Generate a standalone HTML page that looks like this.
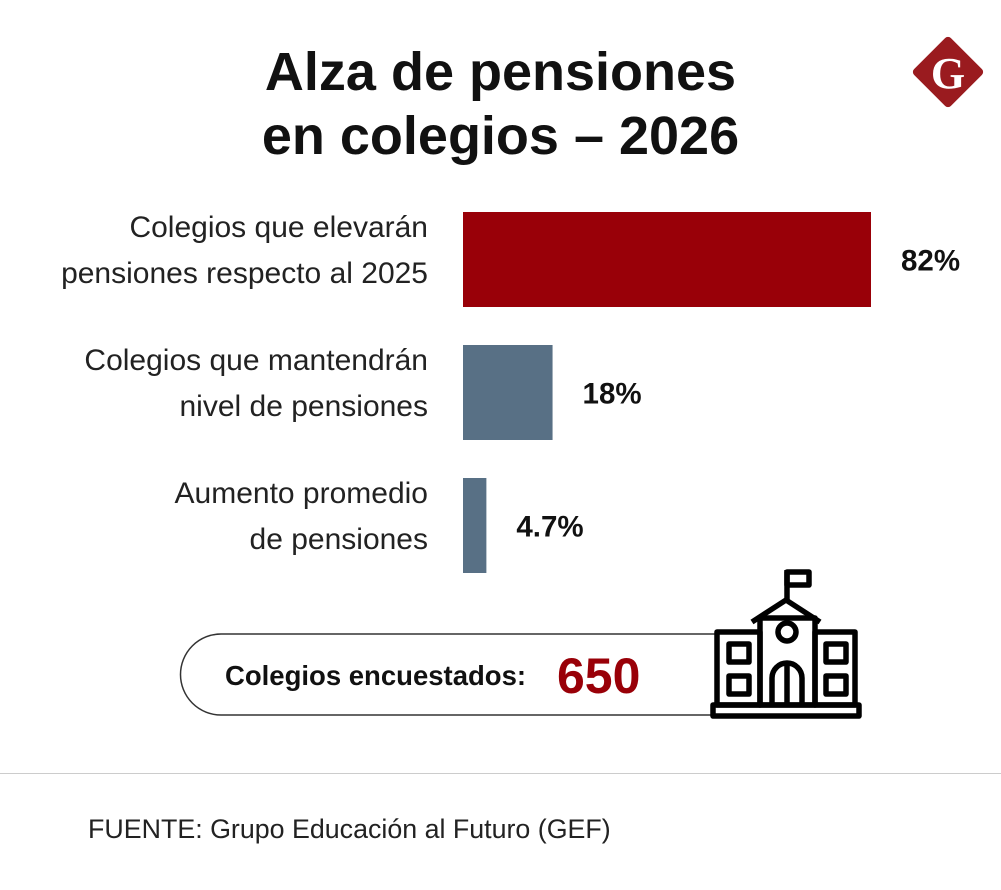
<!DOCTYPE html>
<html><head><meta charset="utf-8"><style>
body{margin:0;width:1001px;height:890px;background:#fff;font-family:"Liberation Sans","DejaVu Sans",sans-serif;position:relative;overflow:hidden}
.t{position:absolute}
</style></head><body>
<div class="t" style="left:0;width:1001px;top:40px;text-align:center;font-size:54px;font-weight:bold;line-height:64px;color:#111">Alza de pensiones<br>en colegios – 2026</div>
<svg class="t" style="left:908px;top:32px" width="80" height="80" viewBox="0 0 80 80"><rect x="14" y="14" width="52" height="52" rx="4" transform="rotate(45 40 40)" fill="#9a1b1f"/><text x="40" y="56" text-anchor="middle" font-family="Liberation Serif,serif" font-weight="bold" font-size="44" fill="#fff">G</text></svg>
<svg id="chart" class="t" style="left:0;top:0" width="1001" height="600"></svg>
<svg class="t" style="left:0;top:560px" width="1001" height="180">
<path d="M717 74 H221 A40 40 0 0 0 221 155 H717" fill="none" stroke="#333" stroke-width="1.5"/>
<text x="225" y="125" font-size="27.5" font-weight="bold" fill="#111">Colegios encuestados:</text>
<text x="557" y="133" font-size="50" font-weight="bold" fill="#990008">650</text>
<g fill="none" stroke="#000" stroke-width="5.5" stroke-linejoin="round">
<line x1="787" y1="10" x2="787" y2="40"/><rect x="787" y="12" width="22" height="13"/>
<path d="M752 62 L786 40 L820 62"/><rect x="760" y="58" width="55" height="87"/>
<rect x="717" y="72" width="43" height="73"/><rect x="815" y="72" width="40" height="73"/>
<circle cx="787" cy="72" r="9"/>
<rect x="729" y="84" width="20" height="18"/><rect x="729" y="116" width="20" height="18"/>
<rect x="826" y="84" width="20" height="18"/><rect x="826" y="116" width="20" height="18"/>
<path d="M772 145 V118 A15 15 0 0 1 802 118 V145 M787 104 V145"/>
<rect x="713" y="145" width="146" height="11"/></g>
</svg>
<div class="t" style="left:0;top:773px;width:1001px;height:1px;background:#ccc"></div>
<div class="t" style="left:88px;top:814px;font-size:26.8px;color:#222">FUENTE: Grupo Educación al Futuro (GEF)</div>
<script>
const categories=[["Colegios que elevarán","pensiones respecto al 2025"],["Colegios que mantendrán","nivel de pensiones"],["Aumento promedio","de pensiones"]];
const values=[82,18,4.7];
const labels=["82%","18%","4.7%"];
const colors=["#990008","#587085","#587085"];
const svg=document.getElementById('chart');const NS='http://www.w3.org/2000/svg';
const x0=463,scale=408/82;const xs=v=>v*scale;const yTop=i=>212+i*133;const bh=95;
values.forEach((v,i)=>{
const r=document.createElementNS(NS,'rect');


r.setAttribute('x',x0);r.setAttribute('y',yTop(i));r.setAttribute('width',xs(v));r.setAttribute('height',bh);r.setAttribute('fill',colors[i]);svg.appendChild(r);
const t=document.createElementNS(NS,'text');


t.setAttribute('x',x0+xs(v)+30);t.setAttribute('y',yTop(i)+bh/2+11);t.setAttribute('font-size','29.5');t.setAttribute('font-weight','bold');t.setAttribute('fill','#111');t.textContent=labels[i];svg.appendChild(t);
categories[i].forEach((line,j)=>{
const c=document.createElementNS(NS,'text');


c.setAttribute('x',428);c.setAttribute('y',yTop(i)+25+j*46);c.setAttribute('text-anchor','end');c.setAttribute('font-size','30');c.setAttribute('fill','#222');c.textContent=line;svg.appendChild(c);});
});
</script>
</body></html>
